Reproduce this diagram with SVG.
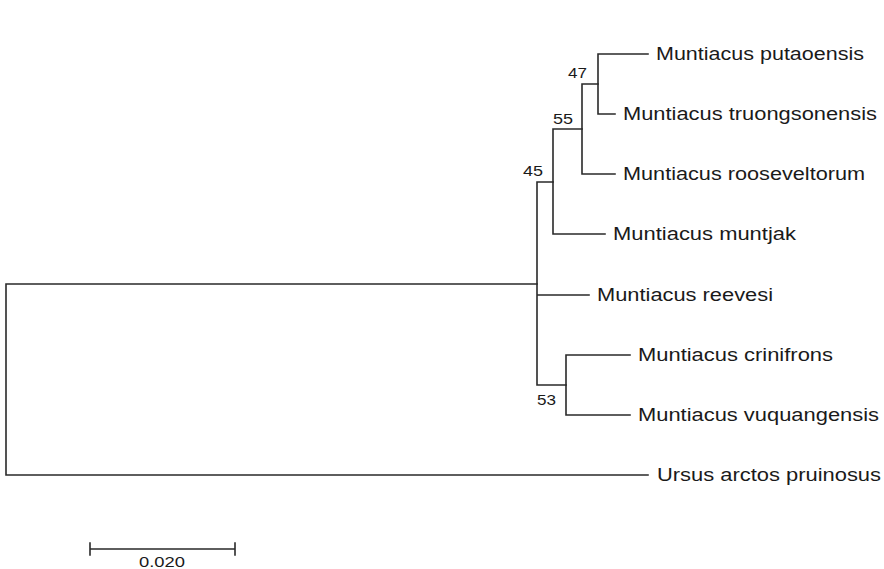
<svg xmlns="http://www.w3.org/2000/svg" width="884" height="569" viewBox="0 0 884 569">
<style>
.br{fill:none;stroke:#2a2a2a;stroke-width:1.6;stroke-linecap:square}
.lb{font-family:"Liberation Sans",Arial,sans-serif;font-size:17.5px;fill:#1a1a1a}
.bs{font-family:"Liberation Sans",Arial,sans-serif;font-size:14px;fill:#1a1a1a}
</style>
<rect width="884" height="569" fill="#ffffff"/>
<g id="connectors">
<path class="br" d="M6,284 V475 M6,284 H537 M6,475 H648"/>
<path class="br" d="M537,182 V385 M537,182 H553 M537,295 H589 M537,385 H566"/>
<path class="br" d="M553,129 V234 M553,129 H582 M553,234 H605"/>
<path class="br" d="M582,84 V174 M582,84 H598 M582,174 H615"/>
<path class="br" d="M598,54 V114 M598,54 H648 M598,114 H615"/>
<path class="br" d="M566,355 V415 M566,355 H630 M566,415 H630"/>
</g>
<g id="leaf-putaoensis"><text class="lb" x="656" y="60" textLength="208" lengthAdjust="spacingAndGlyphs">Muntiacus putaoensis</text></g>
<g id="leaf-truongsonensis"><text class="lb" x="623" y="120" textLength="254" lengthAdjust="spacingAndGlyphs">Muntiacus truongsonensis</text></g>
<g id="leaf-rooseveltorum"><text class="lb" x="623" y="180" textLength="242" lengthAdjust="spacingAndGlyphs">Muntiacus rooseveltorum</text></g>
<g id="leaf-muntjak"><text class="lb" x="613" y="240" textLength="183" lengthAdjust="spacingAndGlyphs">Muntiacus muntjak</text></g>
<g id="leaf-reevesi"><text class="lb" x="597" y="301" textLength="176" lengthAdjust="spacingAndGlyphs">Muntiacus reevesi</text></g>
<g id="leaf-crinifrons"><text class="lb" x="638" y="361" textLength="195" lengthAdjust="spacingAndGlyphs">Muntiacus crinifrons</text></g>
<g id="leaf-vuquangensis"><text class="lb" x="638" y="421" textLength="241" lengthAdjust="spacingAndGlyphs">Muntiacus vuquangensis</text></g>
<g id="leaf-ursus"><text class="lb" x="657" y="481" textLength="224" lengthAdjust="spacingAndGlyphs">Ursus arctos pruinosus</text></g>
<g id="node-47"><text class="bs" x="568" y="78" textLength="19" lengthAdjust="spacingAndGlyphs">47</text></g>
<g id="node-55"><text class="bs" x="553" y="124" textLength="20" lengthAdjust="spacingAndGlyphs">55</text></g>
<g id="node-45"><text class="bs" x="523" y="176" textLength="20" lengthAdjust="spacingAndGlyphs">45</text></g>
<g id="node-53"><text class="bs" x="537" y="405" textLength="19" lengthAdjust="spacingAndGlyphs">53</text></g>
<g id="scale-bar">
<path class="br" d="M90,549 H235 M90,543 V555 M235,543 V555"/>
<text class="bs" x="139" y="567" textLength="46" lengthAdjust="spacingAndGlyphs" style="font-size:15px">0.020</text>
</g>
</svg>
